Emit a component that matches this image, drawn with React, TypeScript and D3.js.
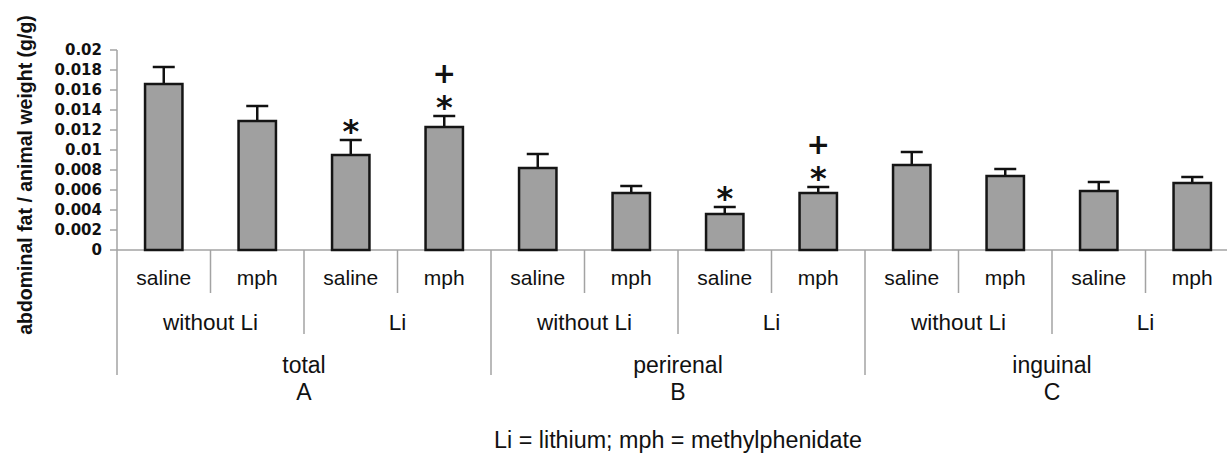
import * as d3 from "d3";

// categories
const regions = ["total", "perirenal", "inguinal"];
const panels = ["A", "B", "C"];
const lithium = ["without Li", "Li"];
const treatments = ["saline", "mph"];

// values, in bar order (region > lithium > treatment)
const means = [0.0166, 0.0129, 0.0095, 0.0123, 0.0082, 0.0057, 0.0036, 0.0057, 0.0085, 0.0074, 0.0059, 0.0067];
const sems = [0.0017, 0.0015, 0.0015, 0.0011, 0.0014, 0.0007, 0.0007, 0.0006, 0.0013, 0.0007, 0.0009, 0.0006];
const starBars = [2, 3, 6, 7];
const plusBars = [3, 7];

const yTicks = [0, 0.002, 0.004, 0.006, 0.008, 0.01, 0.012, 0.014, 0.016, 0.018, 0.02];
const footnote = "Li = lithium; mph = methylphenidate";

export default function App() {
  const width = 1227,
    height = 453;
  const left = 117,
    top = 50,
    base = 250,
    right = 117 + 12 * 93.5;

  const bars = means.map((m, i) => ({ i, mean: m, sem: sems[i] }));

  const x = d3
    .scaleBand<number>()
    .domain(bars.map((d) => d.i))
    .range([left, right])
    .paddingInner(0.6)
    .paddingOuter(0.3);
  const y = d3.scaleLinear().domain([0, 0.02]).range([base, top]);

  const step = x.step();
  const edge = (k: number) => left + k * step;
  const font = "'Liberation Sans', Arial, sans-serif";
  const grey = "#a3a3a3";

  // separator lines below the axis: every category boundary, longer for bigger groups
  const seps = d3.range(0, 13).map((k) => ({
    k,
    y2: k % 4 === 0 ? 375 : k % 2 === 0 ? 334 : 293,
  }));

  return (
    <div style={{ position: "absolute", left: 0, top: 0 }}>
      <svg width={width} height={height} style={{ display: "block", background: "#fff" }}>
        {/* y axis */}
        <line x1={left} x2={left} y1={top} y2={base} stroke={grey} strokeWidth={1.5} />
        {yTicks.map((t) => (
          <g key={t}>
            <line x1={left - 7} x2={left} y1={y(t)} y2={y(t)} stroke={grey} strokeWidth={1.5} />
            <text
              x={102}
              y={y(t)}
              dy="0.36em"
              textAnchor="end"
              fontFamily="'DejaVu Sans', sans-serif"
              fontWeight="bold"
              fontSize={15}
              fill="#111"
            >
              {d3.format("")(+t.toFixed(3))}
            </text>
          </g>
        ))}
        <text
          transform={`translate(32,175) rotate(-90)`}
          textAnchor="middle"
          fontFamily={font}
          fontWeight="bold"
          fontSize={19.5}
          fill="#111"
        >
          abdominal fat / animal weight (g/g)
        </text>

        {/* x axis + separators */}
        <line x1={left} x2={width} y1={base} y2={base} stroke={grey} strokeWidth={1.5} />
        {seps.map((s) => (
          <line key={s.k} x1={edge(s.k)} x2={edge(s.k)} y1={base} y2={s.y2} stroke={grey} strokeWidth={1.5} />
        ))}

        {/* bars */}
        {bars.map((d) => {
          const cx = x(d.i)! + x.bandwidth() / 2;
          return (
            <g key={d.i}>
              <line x1={cx} x2={cx} y1={y(d.mean)} y2={y(d.mean + d.sem)} stroke="#111" strokeWidth={2.5} />
              <line x1={cx - 11} x2={cx + 11} y1={y(d.mean + d.sem)} y2={y(d.mean + d.sem)} stroke="#111" strokeWidth={2.5} />
              <rect
                x={x(d.i)}
                y={y(d.mean)}
                width={x.bandwidth()}
                height={base - y(d.mean)}
                fill="#a0a0a0"
                stroke="#151515"
                strokeWidth={2.5}
              />
            </g>
          );
        })}

        {/* significance marks */}
        {starBars.map((i) => {
          const cx = x(i)! + x.bandwidth() / 2;
          const cy = y(means[i] + sems[i]) - 16;
          return (
            <text key={"s" + i} x={cx} y={cy + 18} textAnchor="middle" fontFamily="'DejaVu Sans', sans-serif" fontWeight="bold" fontSize={32} fill="#111">
              *
            </text>
          );
        })}
        {plusBars.map((i) => {
          const cx = x(i)! + x.bandwidth() / 2;
          const cy = y(means[i] + sems[i]) - 16 - 26;
          return (
            <text key={"p" + i} x={cx} y={cy + 9} textAnchor="middle" fontFamily="'DejaVu Sans', sans-serif" fontWeight="bold" fontSize={28} fill="#111">
              +
            </text>
          );
        })}

        {/* category labels */}
        {bars.map((d) => (
          <text key={"t" + d.i} x={x(d.i)! + x.bandwidth() / 2} y={285} textAnchor="middle" fontFamily={font} fontSize={21} fill="#111">
            {treatments[d.i % 2]}
          </text>
        ))}
        {d3.range(6).map((g) => (
          <text key={"l" + g} x={edge(g * 2 + 1)} y={330} textAnchor="middle" fontFamily={font} fontSize={22.5} fill="#111">
            {lithium[g % 2]}
          </text>
        ))}
        {regions.map((r, k) => (
          <g key={r}>
            <text x={edge(k * 4 + 2)} y={373} textAnchor="middle" fontFamily={font} fontSize={23} fill="#111">
              {r}
            </text>
            <text x={edge(k * 4 + 2)} y={400} textAnchor="middle" fontFamily={font} fontSize={23} fill="#111">
              {panels[k]}
            </text>
          </g>
        ))}
        <text x={edge(6)} y={448} textAnchor="middle" fontFamily={font} fontSize={23.3} fill="#111">
          {footnote}
        </text>
      </svg>
    </div>
  );
}
